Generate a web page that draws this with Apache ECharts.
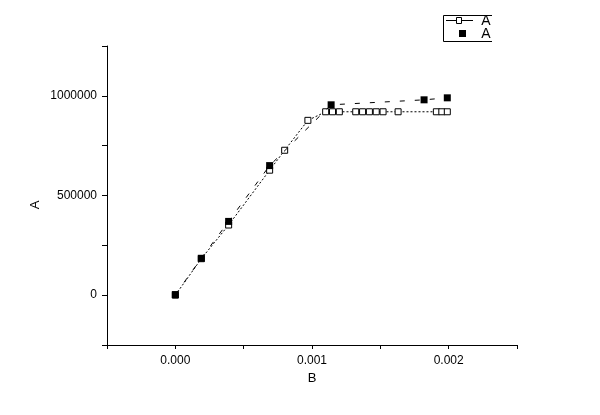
<!DOCTYPE html>
<html>
<head>
<meta charset="utf-8">
<script src="https://cdn.jsdelivr.net/npm/echarts@6/dist/echarts.min.js"></script>
<style>html,body{margin:0;padding:0;background:#fff}#c{width:600px;height:415px}</style>
</head>
<body>
<div id="c"></div>
<script>
// Series 1 (open squares): [B, A]
const openB = [0, 0.00019, 0.00039, 0.00069, 0.00080, 0.00097, 0.00110, 0.00115, 0.00120, 0.00132, 0.00137, 0.00142, 0.00147, 0.00152, 0.00163, 0.00191, 0.00195, 0.00199];
const openA = [0, 183000, 352000, 627000, 727000, 877000, 920000, 920000, 920000, 920000, 920000, 920000, 920000, 920000, 920000, 920000, 920000, 920000];
// Series 2 (filled squares)
const fillB = [0, 0.00019, 0.00039, 0.00069, 0.00114, 0.00182, 0.00199];
const fillA = [3000, 185000, 370000, 650000, 955000, 980000, 990000];
const xTickLabels = ['0.000', '0.001', '0.002'];
const yTickLabels = ['0', '500000', '1000000'];
const seriesNames = ['A', 'A'];
const xName = 'B';
const yName = 'A';

const FONT = '"Liberation Sans", Arial, sans-serif';
const chart = echarts.init(document.getElementById('c'));
const zip = (xs, ys) => xs.map((x, i) => [x, ys[i]]);

chart.setOption({
  animation: false,
  backgroundColor: '#fff',
  grid: { left: 107, right: 83, top: 46, bottom: 70 },
  xAxis: {
    type: 'value', min: -0.0005, max: 0.0025, interval: 0.0005,
    name: xName, nameLocation: 'middle', nameGap: 21,
    nameTextStyle: { color: '#000', fontSize: 13, fontFamily: FONT },
    axisLine: { show: true, onZero: false, lineStyle: { color: '#000', width: 1 } },
    axisTick: { show: true, length: 4, lineStyle: { color: '#000' } },
    splitLine: { show: false },
    axisLabel: {
      color: '#000', fontSize: 12, fontFamily: FONT, margin: 10,
      formatter: v => {
        const k = Math.round(v * 10000);
        if (k % 10 !== 0) return '';
        const s = v.toFixed(3);
        return xTickLabels.includes(s) ? s : '';
      }
    }
  },
  yAxis: {
    type: 'value', min: -250000, max: 1250000, interval: 250000,
    axisLine: { show: true, onZero: false, lineStyle: { color: '#000', width: 1 } },
    axisTick: { show: true, length: 5, lineStyle: { color: '#000' } },
    splitLine: { show: false },
    axisLabel: {
      color: '#000', fontSize: 12, fontFamily: FONT, margin: 10,
      formatter: v => yTickLabels.includes(String(v)) ? String(v) : ''
    }
  },
  series: [
    {
      name: seriesNames[0], type: 'line', data: zip(openB, openA),
      symbol: 'rect', symbolSize: 6, showSymbol: true,
      itemStyle: { color: '#fff', borderColor: '#000', borderWidth: 1 },
      lineStyle: { color: '#000', width: 1, type: [2, 2] },
      z: 2
    },
    {
      name: seriesNames[1], type: 'line', data: zip(fillB, fillA),
      symbol: 'rect', symbolSize: 7, showSymbol: true,
      itemStyle: { color: '#000', borderColor: '#000', borderWidth: 0 },
      lineStyle: { color: '#000', width: 1, type: [5, 10] },
      z: 3
    }
  ],
  graphic: [
    { type: 'text', x: 35, y: 205, rotation: Math.PI / 2, style: { text: yName, x: 0, y: 0, font: '13px ' + FONT, fill: '#000', align: 'center', verticalAlign: 'middle', textAlign: 'center', textVerticalAlign: 'middle' } },
    { type: 'line', shape: { x1: 443.5, y1: 15.5, x2: 492, y2: 15.5 }, style: { stroke: '#000', lineWidth: 1 } },
    { type: 'line', shape: { x1: 443.5, y1: 15.5, x2: 443.5, y2: 41.5 }, style: { stroke: '#000', lineWidth: 1 } },
    { type: 'line', shape: { x1: 443.5, y1: 41.5, x2: 492, y2: 41.5 }, style: { stroke: '#000', lineWidth: 1 } },
    { type: 'line', shape: { x1: 446, y1: 20.5, x2: 473, y2: 20.5 }, style: { stroke: '#000', lineWidth: 1 } },
    { type: 'rect', shape: { x: 456.5, y: 17.5, width: 5, height: 6 }, style: { fill: '#fff', stroke: '#000', lineWidth: 1 } },
    { type: 'text', style: { text: seriesNames[0], x: 486, y: 21, font: '14px ' + FONT, fill: '#000', align: 'center', verticalAlign: 'middle', textAlign: 'center', textVerticalAlign: 'middle' } },
    { type: 'rect', shape: { x: 459, y: 30, width: 7, height: 7 }, style: { fill: '#000', stroke: null } },
    { type: 'text', style: { text: seriesNames[1], x: 486, y: 34, font: '14px ' + FONT, fill: '#000', align: 'center', verticalAlign: 'middle', textAlign: 'center', textVerticalAlign: 'middle' } }
  ]
});
</script>
</body>
</html>
